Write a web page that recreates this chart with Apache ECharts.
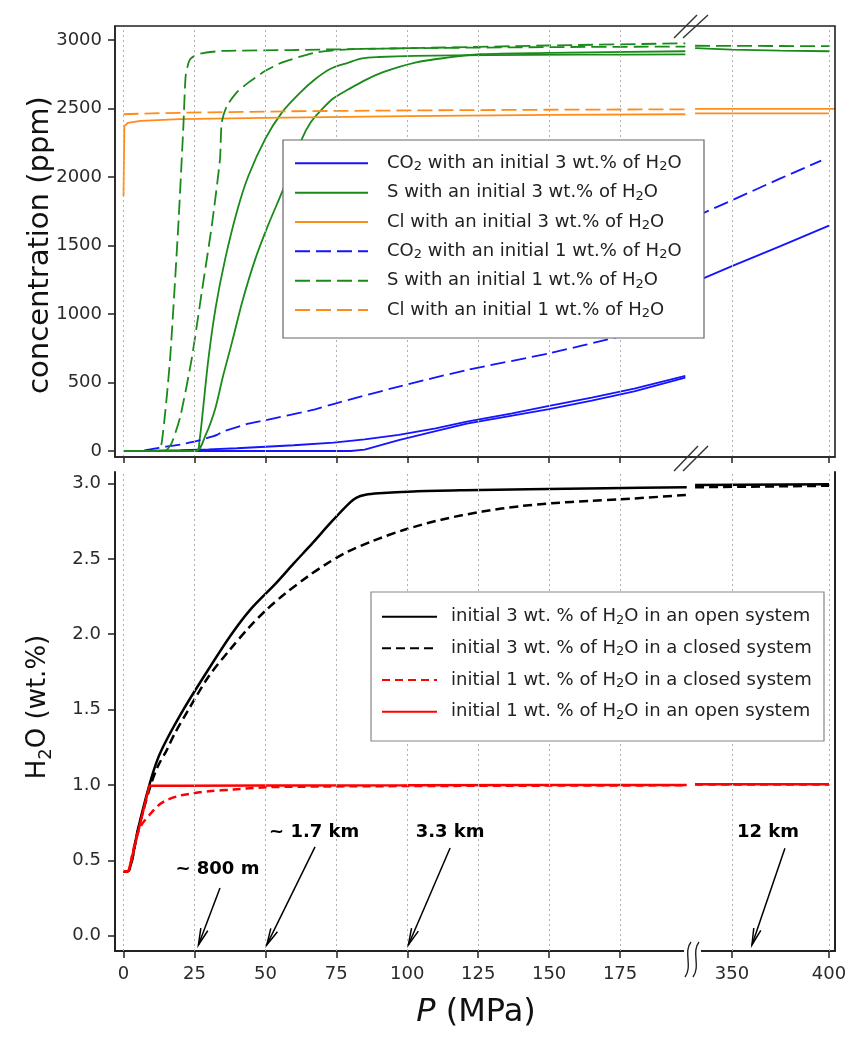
<!DOCTYPE html>
<html><head><meta charset="utf-8">
<script src="https://cdn.jsdelivr.net/npm/echarts@6/dist/echarts.min.js"></script>
<style>html,body{margin:0;padding:0;background:#fff}#c{width:847px;height:1037px}</style>
</head><body><div id="c"></div>
<script>
// ---------------- DATA ----------------
const xTicksLeft = [0, 25, 50, 75, 100, 125, 150, 175];
const xTicksRight = [350, 400];
const yTicksTop = [0, 500, 1000, 1500, 2000, 2500, 3000];
const yTicksBottom = [0, 0.5, 1, 1.5, 2, 2.5, 3];

const legendTop = [
  'CO2 with an initial 3 wt.% of H2O',
  'S with an initial 3 wt.% of H2O',
  'Cl with an initial 3 wt.% of H2O',
  'CO2 with an initial 1 wt.% of H2O',
  'S with an initial 1 wt.% of H2O',
  'Cl with an initial 1 wt.% of H2O'
];
const legendBottom = [
  'initial 3 wt. % of H2O in an open system',
  'initial 3 wt. % of H2O in a closed system',
  'initial 1 wt. % of H2O in a closed system',
  'initial 1 wt. % of H2O in an open system'
];

// top panel, P (MPa) 0-200 segment, concentration (ppm)
const co2W3a = [[0,0],[10,2],[20,6],[30,12],[40,20],[50,31],[60,42],[74,61],[85,85],[97,117],[110,165],[121,214],[137,275],[150,330],[165,390],[180,455],[198,548]];
const co2W3b = [[0,0],[40,0],[80,0],[85,10],[97,80],[110,145],[121,200],[137,258],[150,305],[165,368],[180,435],[198,535]];
const co2W1  = [[0,0],[5,0],[15,32],[20.5,49],[27,80],[33,118],[35,141],[44,200],[50,225],[67.5,304],[74,343],[97,470],[121,591],[150,713],[173,827],[198,955]];
const sW3a = [[0,0],[25.8,0],[26.8,80],[28,300],[29.9,669],[32.5,1050],[35.8,1399],[40,1750],[44,2007],[50,2280],[55.8,2470],[62,2610],[67.5,2713],[73,2790],[79.3,2835],[84,2866],[90,2876],[102.8,2884],[130,2890],[160,2893],[198,2895]];
const sW3b = [[0,0],[25.5,0],[29,120],[32.3,307],[35,540],[38.2,791],[42,1100],[46.4,1399],[51,1650],[55.8,1886],[60,2100],[62.8,2275],[66,2400],[69.9,2494],[74,2575],[79.3,2640],[85,2705],[91,2762],[102.8,2835],[114,2871],[125.7,2896],[150,2906],[198,2918]];
const sW1a = [[0,0],[12.3,0],[14,150],[16.4,669],[19.3,1642],[21.1,2372],[21.9,2737],[23,2840],[24,2871],[27,2900],[34.6,2920],[60,2927],[100,2940],[150,2960],[198,2976]];
const sW1b = [[0,0],[14.6,0],[17,60],[20,250],[24,669],[27.5,1150],[31.1,1642],[34,2130],[34.6,2397],[36.4,2518],[40,2620],[44,2689],[50,2775],[55.8,2835],[67.5,2908],[79.3,2932],[100,2940],[150,2948],[198,2952]];
const clW3 = [[0,1861],[0.3,2372],[1.5,2395],[6,2410],[20,2422],[50,2432],[100,2445],[150,2453],[198,2458]];
const clW1 = [[0,2458],[10,2465],[30,2472],[60,2480],[100,2486],[150,2491],[198,2494]];

// top panel, 330-400 segment
const co2W3R = [[331,1235],[350,1350],[375,1495],[400,1645]];
const co2W1R = [[331,1710],[350,1830],[375,1990],[396,2120]];
const sW3R = [[331,2940],[350,2930],[375,2922],[400,2918]];
const sW1R = [[331,2958],[400,2955]];
const clW3R = [[331,2465],[400,2465]];
const clW1R = [[331,2497],[403,2498]];

// bottom panel, H2O (wt.%)
const h2o3Open = [[0,0.425],[1.8,0.43],[5,0.70],[9.1,1.0],[12,1.17],[15.2,1.30],[21.1,1.50],[27,1.68],[37.5,1.985],[45,2.17],[53.7,2.338],[60,2.47],[66.6,2.604],[73,2.74],[79.6,2.87],[82,2.905],[85.3,2.925],[90,2.935],[102.2,2.947],[120,2.955],[142.7,2.962],[170,2.969],[198.5,2.975]];
const h2o3Closed = [[0,0.425],[1.8,0.43],[5,0.69],[9.1,0.97],[12,1.12],[15.2,1.23],[18,1.34],[22.9,1.50],[30,1.72],[37.5,1.898],[44,2.04],[50.4,2.163],[57,2.27],[65,2.384],[71,2.46],[78,2.538],[88,2.62],[99,2.693],[112,2.76],[126.5,2.814],[140,2.85],[150.9,2.869],[165,2.885],[175,2.895],[198.5,2.924]];
const h2o1Closed = [[0,0.425],[1.8,0.43],[3,0.53],[4.6,0.658],[6.5,0.74],[9.1,0.80],[12,0.86],[15.2,0.90],[20,0.93],[24.6,0.945],[30,0.958],[38.7,0.97],[50.4,0.985],[70,0.99],[100,0.993],[150,0.996],[198.5,0.998]];
const h2o1Open = [[0,0.425],[1.8,0.43],[9.1,0.995],[20,0.995],[50,0.997],[100,0.998],[150,1.0],[198.5,1.0]];
const h2o3OpenR = [[331,2.99],[400,2.995]];
const h2o3ClosedR = [[331,2.975],[400,2.985]];
const h2o1ClosedR = [[331,1.003],[400,1.003]];
const h2o1OpenR = [[331,1.005],[400,1.005]];

// depth annotations: [fromP, fromH2O, toP, toH2O, labelP, labelH2O, labelIndex]
const annotText = ['~ 800 m', '~ 1.7 km', '3.3 km', '12 km'];
const annotLeft = [[34.0,0.317,26.4,-0.061,33.1,0.443,0],[67.5,0.589,50.5,-0.061,67.2,0.688,1],[115.1,0.582,100.4,-0.061,115.1,0.688,2]];
const annotRight = [[377.3,0.58,360.3,-0.061,368.6,0.688,3]];

// ---------------- STYLE / LAYOUT ----------------
const FONT = 'DejaVu Sans';
const BLUE = '#1414ff', GREEN = '#1a8a1a', ORANGE = '#ff8c1a', RED = '#ff0000', BLACK = '#000000';
const TOPDASH = [15, 6];
const subFmt = n => n.replace(/(CO|H)2/g, '$1{s|2}');

const chart = echarts.init(document.getElementById('c'), null, {renderer: 'canvas'});

function ln(name, data, xi, yi, color, dash, width, smooth) {
  return {
    type: 'line', name, data, xAxisIndex: xi, yAxisIndex: yi,
    showSymbol: false, symbol: 'none', smooth: smooth || 0,
    lineStyle: {color, width, type: dash || 'solid'}, itemStyle: {color},
    silent: true, animation: false, z: 2
  };
}
function gridLines(ticks) {
  return {
    silent: true, symbol: 'none', label: {show: false}, animation: false,
    lineStyle: {color: '#b0b0b0', type: [2, 3], width: 1},
    emphasis: {disabled: true},
    data: ticks.map(v => ({xAxis: v}))
  };
}
function arrowRender(params, api) {
  const a = api.coord([api.value(0), api.value(1)]);
  const b = api.coord([api.value(2), api.value(3)]);
  const t = api.coord([api.value(4), api.value(5)]);
  const ang = Math.atan2(b[1] - a[1], b[0] - a[0]);
  const L = 17, w = 0.22;
  const h1 = [b[0] - L * Math.cos(ang - w), b[1] - L * Math.sin(ang - w)];
  const h2 = [b[0] - L * Math.cos(ang + w), b[1] - L * Math.sin(ang + w)];
  return {type: 'group', children: [
    {type: 'line', shape: {x1: a[0], y1: a[1], x2: b[0], y2: b[1]}, style: {stroke: '#000', lineWidth: 1.5}},
    {type: 'polyline', shape: {points: [h1, b, h2]}, style: {stroke: '#000', lineWidth: 1.5, fill: null}},
    {type: 'text', x: t[0], y: t[1], style: {text: annotText[api.value(6)], fontFamily: FONT, fontWeight: 'bold', fontSize: 18, fill: '#000', align: 'center', verticalAlign: 'middle', textAlign: 'center', textVerticalAlign: 'middle'}}
  ]};
}

const L = 115, MID = 691, R = 835;
const TT = 26, TB = 457, BT = 472, BB = 951;

const axisTxt = {fontFamily: FONT, fontSize: 18, color: '#2a2a2a'};
const plain = v => String(v);

const legendText = {fontFamily: FONT, fontSize: 18, color: '#222', lineHeight: 20,
  rich: {s: {fontFamily: FONT, fontSize: 13, color: '#222', verticalAlign: 'bottom', lineHeight: 9}}};

const option = {
  animation: false,
  backgroundColor: '#fff',
  grid: [
    {left: L, top: TT, width: MID - L, height: TB - TT, outerBoundsMode: 'none'},
    {left: MID, top: TT, width: R - MID, height: TB - TT, outerBoundsMode: 'none'},
    {left: L, top: BT, width: MID - L, height: BB - BT, outerBoundsMode: 'none'},
    {left: MID, top: BT, width: R - MID, height: BB - BT, outerBoundsMode: 'none'}
  ],
  xAxis: [
    {gridIndex: 0, type: 'value', min: -3, max: 200, axisLine: {show: true, onZero: false, lineStyle: {color: '#222', width: 1.5}},
     axisTick: {show: true, customValues: xTicksLeft, length: 6, lineStyle: {color: '#222', width: 1.5}},
     axisLabel: {show: false}, splitLine: {show: false}},
    {gridIndex: 1, type: 'value', min: 328.9, max: 403.1, axisLine: {show: true, onZero: false, lineStyle: {color: '#222', width: 1.5}},
     axisTick: {show: true, customValues: xTicksRight, length: 6, lineStyle: {color: '#222', width: 1.5}},
     axisLabel: {show: false}, splitLine: {show: false}},
    {gridIndex: 2, type: 'value', min: -3, max: 200, axisLine: {show: true, onZero: false, lineStyle: {color: '#222', width: 2}},
     axisTick: {show: true, customValues: xTicksLeft, length: 7, lineStyle: {color: '#222', width: 1.5}},
     axisLabel: Object.assign({customValues: xTicksLeft, margin: 14, formatter: plain}, axisTxt), splitLine: {show: false}},
    {gridIndex: 3, type: 'value', min: 328.9, max: 403.1, axisLine: {show: true, onZero: false, lineStyle: {color: '#222', width: 2}},
     axisTick: {show: true, customValues: xTicksRight, length: 7, lineStyle: {color: '#222', width: 1.5}},
     axisLabel: Object.assign({customValues: xTicksRight, margin: 14, formatter: plain}, axisTxt), splitLine: {show: false}}
  ],
  yAxis: [
    {gridIndex: 0, type: 'value', min: -43.8, max: 3102.2, axisLine: {show: true, onZero: false, lineStyle: {color: '#222', width: 1.5}},
     axisTick: {show: true, customValues: yTicksTop, length: 7, lineStyle: {color: '#222', width: 1.5}},
     axisLabel: Object.assign({customValues: yTicksTop, margin: 13, formatter: plain}, axisTxt), splitLine: {show: false}},
    {gridIndex: 1, type: 'value', min: -43.8, max: 3102.2, show: false},
    {gridIndex: 2, type: 'value', min: -0.1012, max: 3.0763, axisLine: {show: true, onZero: false, lineStyle: {color: '#222', width: 2}},
     axisTick: {show: true, customValues: yTicksBottom, length: 7, lineStyle: {color: '#222', width: 1.5}},
     axisLabel: Object.assign({customValues: yTicksBottom, margin: 14, formatter: v => v.toFixed(1)}, axisTxt), splitLine: {show: false}},
    {gridIndex: 3, type: 'value', min: -0.1012, max: 3.0763, position: 'right', axisLine: {show: true, onZero: false, lineStyle: {color: '#222', width: 2}},
     axisTick: {show: false}, axisLabel: {show: false}, splitLine: {show: false}}
  ],
  legend: [
    {data: legendTop, left: 294, top: 153.3, orient: 'vertical', padding: 0, itemWidth: 73, itemHeight: 14, itemGap: 9.35,
     selectedMode: false, z: 10, formatter: subFmt,
     itemStyle: {color: 'rgba(0,0,0,0)', borderWidth: 0, opacity: 0},
     textStyle: Object.assign({padding: [0, 0, 0, 14]}, legendText)},
    {data: legendBottom, left: 381, top: 606.7, orient: 'vertical', padding: 0, itemWidth: 55, itemHeight: 14, itemGap: 11.67,
     selectedMode: false, z: 10, formatter: subFmt,
     itemStyle: {color: 'rgba(0,0,0,0)', borderWidth: 0, opacity: 0},
     textStyle: Object.assign({padding: [0, 0, 0, 9]}, legendText)}
  ],
  series: [],
  graphic: {elements: [
    // legend boxes
    {type: 'rect', z: 8, shape: {x: 283, y: 140, width: 421, height: 198}, style: {fill: '#fff', stroke: '#666', lineWidth: 1.2}},
    {type: 'rect', z: 8, shape: {x: 371, y: 592, width: 453, height: 149}, style: {fill: '#fff', stroke: '#888', lineWidth: 1.2}},
    // top panel frame
    {type: 'rect', z: 20, shape: {x: L, y: TT, width: R - L, height: TB - TT}, style: {fill: 'none', stroke: '#222', lineWidth: 1.6}},
    // break marks //
    {type: 'line', z: 21, shape: {x1: 674, y1: 38, x2: 697, y2: 15}, style: {stroke: '#333', lineWidth: 1.4}},
    {type: 'line', z: 21, shape: {x1: 683, y1: 38, x2: 708, y2: 15}, style: {stroke: '#333', lineWidth: 1.4}},
    {type: 'line', z: 21, shape: {x1: 674, y1: 471, x2: 698, y2: 446}, style: {stroke: '#333', lineWidth: 1.4}},
    {type: 'line', z: 21, shape: {x1: 683, y1: 471, x2: 708, y2: 446}, style: {stroke: '#333', lineWidth: 1.4}},
    // bottom axis break ((
    {type: 'rect', z: 21, shape: {x: 684, y: 947, width: 17, height: 8}, style: {fill: '#fff'}},
    {type: 'bezierCurve', z: 22, shape: {x1: 691, y1: 942, cpx1: 683, cpy1: 952, cpx2: 693, cpy2: 966, x2: 685, y2: 977}, style: {stroke: '#222', lineWidth: 1.4, fill: null}},
    {type: 'bezierCurve', z: 22, shape: {x1: 699, y1: 942, cpx1: 691, cpy1: 952, cpx2: 701, cpy2: 966, x2: 693, y2: 977}, style: {stroke: '#222', lineWidth: 1.4, fill: null}},
    // axis titles
    {type: 'text', z: 22, x: 40, y: 245, rotation: Math.PI / 2,
     style: {text: 'concentration (ppm)', fontFamily: FONT, fontSize: 29, fill: '#111', align: 'center', verticalAlign: 'middle', textAlign: 'center', textVerticalAlign: 'middle'}},
    {type: 'text', z: 22, x: 38, y: 707, rotation: Math.PI / 2,
     style: {text: 'H{s|2}O (wt.%)', fontFamily: FONT, fontSize: 26, fill: '#111', lineHeight: 34, align: 'center', verticalAlign: 'middle', textAlign: 'center', textVerticalAlign: 'middle',
       rich: {s: {fontFamily: FONT, fontSize: 18, fill: '#111', color: '#111', verticalAlign: 'bottom', lineHeight: 14}}}},
    {type: 'text', z: 22, x: 476, y: 1013,
     style: {text: '{i|P} (MPa)', fontFamily: FONT, fontSize: 32, fill: '#111', align: 'center', verticalAlign: 'middle', textAlign: 'center', textVerticalAlign: 'middle',
       rich: {i: {fontFamily: FONT, fontSize: 32, fontStyle: 'italic', fill: '#111', color: '#111'}}}}
  ]}
};

const S = option.series;
// top-left
const s0 = ln(legendTop[0], co2W3a, 0, 0, BLUE, 'solid', 1.8);
s0.markLine = gridLines(xTicksLeft);
S.push(s0);
S.push(ln(legendTop[0], co2W3b, 0, 0, BLUE, 'solid', 1.8));
S.push(ln(legendTop[1], sW3a, 0, 0, GREEN, 'solid', 1.8, 0.3));
S.push(ln(legendTop[1], sW3b, 0, 0, GREEN, 'solid', 1.8, 0.3));
S.push(ln(legendTop[2], clW3, 0, 0, ORANGE, 'solid', 1.8));
S.push(ln(legendTop[3], co2W1, 0, 0, BLUE, TOPDASH, 1.8, 0.2));
S.push(ln(legendTop[4], sW1a, 0, 0, GREEN, TOPDASH, 1.8, 0.2));
S.push(ln(legendTop[4], sW1b, 0, 0, GREEN, TOPDASH, 1.8, 0.2));
S.push(ln(legendTop[5], clW1, 0, 0, ORANGE, TOPDASH, 1.8));
// top-right
const s1 = ln(legendTop[0], co2W3R, 1, 1, BLUE, 'solid', 1.8);
s1.markLine = gridLines(xTicksRight);
S.push(s1);
S.push(ln(legendTop[1], sW3R, 1, 1, GREEN, 'solid', 1.8));
S.push(ln(legendTop[2], clW3R, 1, 1, ORANGE, 'solid', 1.8));
S.push(ln(legendTop[3], co2W1R, 1, 1, BLUE, TOPDASH, 1.8));
S.push(ln(legendTop[4], sW1R, 1, 1, GREEN, TOPDASH, 1.8));
S.push(ln(legendTop[5], clW1R, 1, 1, ORANGE, 'solid', 1.8));
// bottom-left
const s2 = ln(legendBottom[0], h2o3Open, 2, 2, BLACK, 'solid', 2.5, 0.3);
s2.markLine = gridLines(xTicksLeft);
S.push(s2);
S.push(ln(legendBottom[1], h2o3Closed, 2, 2, BLACK, [9, 5], 2.5, 0.3));
S.push(ln(legendBottom[2], h2o1Closed, 2, 2, RED, [8, 5], 2.5, 0.3));
S.push(ln(legendBottom[3], h2o1Open, 2, 2, RED, 'solid', 2.5));
// bottom-right
const s3 = ln(legendBottom[0], h2o3OpenR, 3, 3, BLACK, 'solid', 2.5);
s3.markLine = gridLines(xTicksRight);
S.push(s3);
S.push(ln(legendBottom[1], h2o3ClosedR, 3, 3, BLACK, [9, 5], 2.5));
S.push(ln(legendBottom[2], h2o1ClosedR, 3, 3, RED, [8, 5], 2.5));
S.push(ln(legendBottom[3], h2o1OpenR, 3, 3, RED, 'solid', 2.5));
// annotations
S.push({type: 'custom', xAxisIndex: 2, yAxisIndex: 2, data: annotLeft, renderItem: arrowRender, silent: true, clip: false, z: 6, animation: false});
S.push({type: 'custom', xAxisIndex: 3, yAxisIndex: 3, data: annotRight, renderItem: arrowRender, silent: true, clip: false, z: 6, animation: false});

chart.setOption(option);
</script>
</body></html>
